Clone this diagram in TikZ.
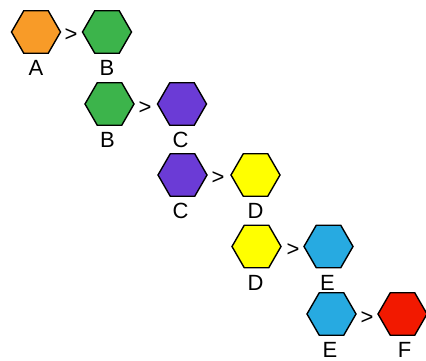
\documentclass[tikz,border=0pt]{standalone}
\usepackage{fontspec}
\setmainfont{Liberation Sans}
\usetikzlibrary{shapes.geometric,calc}
\definecolor{cOrange}{HTML}{F89B28}
\definecolor{cGreen}{HTML}{3CB44B}
\definecolor{cPurple}{HTML}{6B3BD6}
\definecolor{cYellow}{HTML}{FFFF00}
\definecolor{cBlue}{HTML}{27AAE1}
\definecolor{cRed}{HTML}{F21900}
\tikzset{
  hexa/.style={regular polygon, regular polygon sides=6, minimum size=49pt, inner sep=0pt, outer sep=0pt, draw=black, line width=1.4pt},
  lbl/.style={inner sep=0pt, font=\fontsize{22pt}{22pt}\selectfont},
  gt/.style={inner sep=0pt, font=\fontsize{22pt}{22pt}\selectfont},
}
\begin{document}
\begin{tikzpicture}[x=1pt,y=-1pt]
\useasboundingbox (0,0) rectangle (426,361);
% row 1
\node[hexa, fill=cOrange] (A1) at (36,32) {};
\node[hexa, fill=cGreen] (B1) at (107,32) {};
\node[gt] (g1) at (71,35.5) {>};
\node[lbl] (lA1) at ($(A1)+(0,36)$) {A};
\node[lbl] (lB1) at ($(B1)+(0,36)$) {B};
% row 2
\node[hexa, fill=cGreen] (B2) at (109.5,104) {};
\node[hexa, fill=cPurple] (C2) at (182,104) {};
\node[gt] (g2) at (145,108) {>};
\node[lbl] (lB2) at ($(B2)+(-2,36)$) {B};
\node[lbl] (lC2) at ($(C2)+(-1.5,36)$) {C};
% row 3
\node[hexa, fill=cPurple] (C3) at (182.5,175) {};
\node[hexa, fill=cYellow] (D3) at (255.5,175) {};
\node[gt] (g3) at (218,178.5) {>};
\node[lbl] (lC3) at ($(C3)+(-2,36)$) {C};
\node[lbl] (lD3) at ($(D3)+(0,36)$) {D};
% row 4
\node[hexa, fill=cYellow] (D4) at (256.5,246.5) {};
\node[hexa, fill=cBlue] (E4) at (328.5,246.5) {};
\node[gt] (g4) at (293,250.5) {>};
\node[lbl] (lD4) at ($(D4)+(-1,36)$) {D};
\node[lbl] (lE4) at ($(E4)+(-1,36)$) {E};
% row 5
\node[hexa, fill=cBlue] (E5) at (331.5,314) {};
\node[hexa, fill=cRed] (F5) at (402.5,314) {};
\node[gt] (g5) at (367,318) {>};
\node[lbl] (lE5) at ($(E5)+(-1.5,36)$) {E};
\node[lbl] (lF5) at ($(F5)+(2,36)$) {F};
\end{tikzpicture}
\end{document}
